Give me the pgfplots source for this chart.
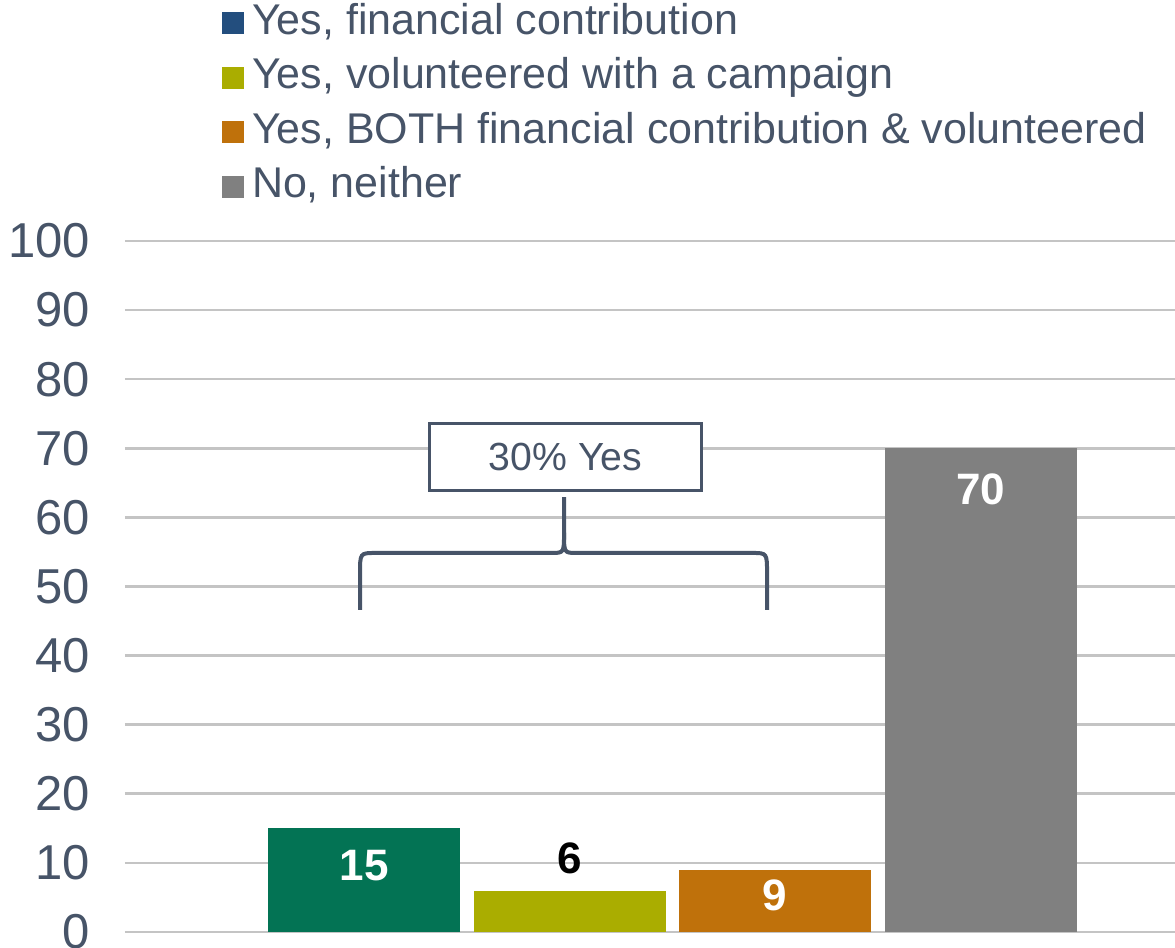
\documentclass[border=0pt]{standalone}
\usepackage{fontspec}
\setmainfont{Liberation Sans}
\usepackage{pgfplots}
\pgfplotsset{compat=1.18}
\definecolor{txt}{HTML}{475468}
\definecolor{gridc}{HTML}{C4C4C4}
\definecolor{cgreen}{HTML}{037354}
\definecolor{colive}{HTML}{AAAD00}
\definecolor{corange}{HTML}{BF710B}
\definecolor{cgray}{HTML}{808080}
\definecolor{legblue}{HTML}{234E7E}
\begin{document}
\begin{tikzpicture}
\begin{axis}[
  name=ax,
  scale only axis, width=525pt, height=345.5pt,
  xmin=-1.163, xmax=3.946, ymin=0, ymax=100,
  ytick={0,10,...,100}, xtick=\empty,
  ymajorgrids, grid style={line width=1.3pt, color=gridc},
  axis line style={draw=none}, tick style={draw=none},
  /pgf/number format/assume math mode=true,
  yticklabel style={font=\fontsize{24.5pt}{29pt}\selectfont, text=txt, xshift=-14pt},
  clip=false,
  legend image code/.code={\fill[#1] (0pt,-5.5pt) rectangle (11pt,5.5pt); \path (15pt,0pt);},
  legend style={at={(0.0924,1.3452)}, anchor=north west, draw=none, fill=none,
    inner sep=0pt, outer sep=0pt, row sep=6.25pt,
    font=\fontsize{21.5pt}{26pt}\selectfont, text=txt,
    nodes={inner sep=0pt, text height=16pt, text depth=5pt}},
  legend cell align=left,
]
\addlegendimage{fill=legblue, draw=none}
\addlegendentry{Yes, financial contribution}
\addlegendimage{fill=colive, draw=none}
\addlegendentry{Yes, volunteered with a campaign}
\addlegendimage{fill=corange, draw=none}
\addlegendentry{Yes, BOTH financial contribution \& volunteered}
\addlegendimage{fill=cgray, draw=none}
\addlegendentry{No, neither}

\addplot[ybar, fill=cgreen, draw=none, bar width=0.934, bar shift=0pt, forget plot,
  nodes near coords={\bfseries 15},
  nodes near coords style={text=white, font=\fontsize{22pt}{26pt}\selectfont, anchor=center, yshift=-18.8pt}]
  coordinates {(0,15)};
\addplot[ybar, fill=colive, draw=none, bar width=0.934, bar shift=0pt, forget plot,
  nodes near coords={\bfseries 6},
  nodes near coords style={text=black, font=\fontsize{22pt}{26pt}\selectfont, anchor=center, yshift=16.3pt}]
  coordinates {(1,6)};
\addplot[ybar, fill=corange, draw=none, bar width=0.934, bar shift=0pt, forget plot,
  nodes near coords={\bfseries 9},
  nodes near coords style={text=white, font=\fontsize{22pt}{26pt}\selectfont, anchor=center, yshift=-12.6pt}]
  coordinates {(2,9)};
\addplot[ybar, fill=cgray, draw=none, bar width=0.934, bar shift=0pt, forget plot,
  nodes near coords={\bfseries 70},
  nodes near coords style={text=white, font=\fontsize{22pt}{26pt}\selectfont, anchor=center, yshift=-20.4pt}]
  coordinates {(3,70)};

% brace
\draw[txt, line width=2pt]
  (axis cs:-0.0195,46.6) -- (axis cs:-0.0195,51.8)
  .. controls (axis cs:-0.0195,54.85) .. (axis cs:0.055,54.85)
  -- (axis cs:0.91,54.85)
  .. controls (axis cs:0.9732,54.85) .. (axis cs:0.9732,57.8)
  -- (axis cs:0.9732,62.95);
\draw[txt, line width=2pt]
  (axis cs:0.9732,57.8)
  .. controls (axis cs:0.9732,54.85) .. (axis cs:1.036,54.85)
  -- (axis cs:1.89,54.85)
  .. controls (axis cs:1.961,54.85) .. (axis cs:1.961,51.8)
  -- (axis cs:1.961,46.6);
% box
\draw[txt, line width=1.5pt, fill=white] (axis cs:0.321,63.82) rectangle (axis cs:1.640,73.66);
\node[text=txt, font=\fontsize{19.6pt}{24pt}\selectfont] at (axis cs:0.9805,68.74) {30\% Yes};
\end{axis}
\pgfresetboundingbox
\path ([xshift=-62.5pt,yshift=-8pt]ax.south west) rectangle ([yshift=120.5pt]ax.north east);
\end{tikzpicture}
\end{document}
